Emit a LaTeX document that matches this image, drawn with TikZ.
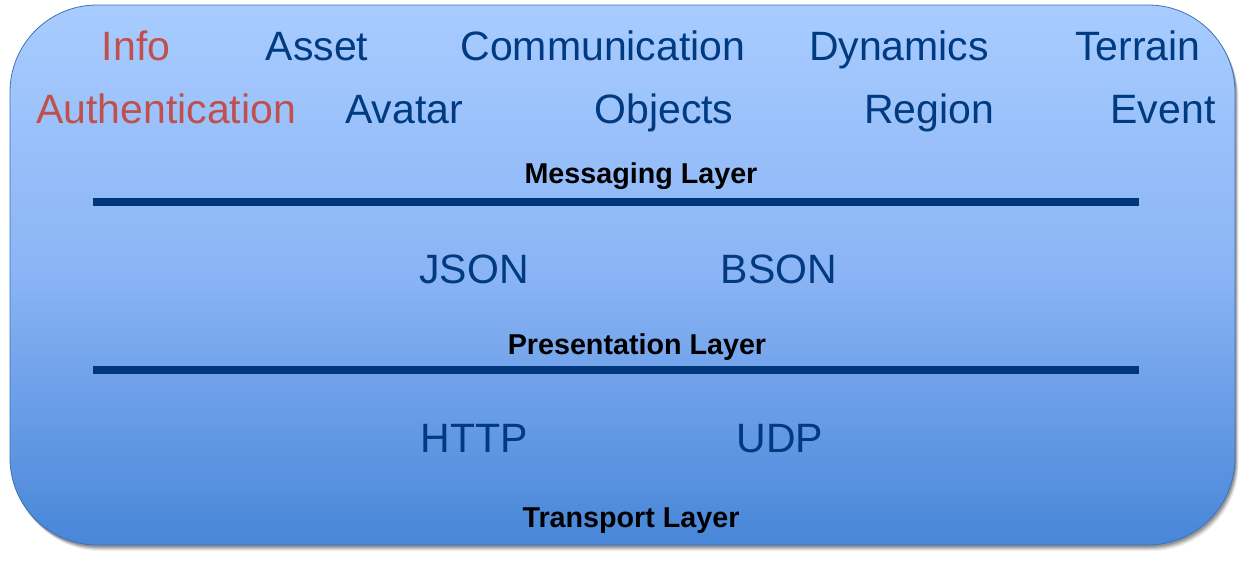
\documentclass[tikz,border=0pt]{standalone}
\usepackage{fontspec}
\setmainfont{Liberation Sans}
\begin{document}
\begin{tikzpicture}[x=1pt,y=-1pt,
  big/.style={anchor=base,inner sep=0pt,font=\fontsize{41}{49}\selectfont,text=darkblue},
  bigred/.style={big,text=redtxt},
  layer/.style={anchor=base,inner sep=0pt,font=\fontsize{28.7}{34}\selectfont\bfseries,text=black},
  sep/.style={draw=linecol,line width=8pt}]
\definecolor{darkblue}{HTML}{003A80}
\definecolor{redtxt}{HTML}{C0504D}
\definecolor{linecol}{HTML}{00367A}
\definecolor{topc}{HTML}{A8CCFF}
\definecolor{midc}{HTML}{8AB4F5}
\definecolor{botc}{HTML}{4886D8}
\useasboundingbox (0,0) rectangle (1245,560);
% shadow
\foreach \o/\op in {6/0.06,5/0.08,4/0.1,3/0.12,2/0.15}{
  \fill[black,opacity=\op,rounded corners=87pt] (10+\o*0.6,5+\o) rectangle (1235+\o*0.6,545+\o);
}
% box
\shade[rounded corners=87pt,top color=topc,bottom color=botc,middle color=midc] (10,5) rectangle (1235,545);
\draw[rounded corners=87pt,draw=black!15!botc,line width=0.8pt] (10,5) rectangle (1235,545);
% row 1
\node[bigred] (info) at (136,60) {Info};
\node[big] (asset) at (317,60) {Asset};
\node[big] (comm) at (603,60) {Communication};
\node[big] (dyn) at (899,60) {Dynamics};
\node[big] (terr) at (1138,60) {Terrain};
% row 2
\node[bigred] (auth) at (166,123) {Authentication};
\node[big] (avat) at (404,123) {Avatar};
\node[big] (obj) at (664,123) {Objects};
\node[big] (reg) at (929,123) {Region};
\node[big] (evt) at (1163,123) {Event};
% layers
\node[layer] (msg) at (641,183) {Messaging Layer};
\coordinate (l1a) at (93,202);
\coordinate (l1b) at (1139,202);
\draw[sep] (l1a) -- (l1b);
\node[big] (json) at (474,283) {JSON};
\node[big] (bson) at (779,283) {BSON};
\node[layer] (pres) at (637,354) {Presentation Layer};
\coordinate (l2a) at (93,370);
\coordinate (l2b) at (1139,370);
\draw[sep] (l2a) -- (l2b);
\node[big] (http) at (474,452) {HTTP};
\node[big] (udp) at (780,452) {UDP};
\node[layer] (trans) at (631,527) {Transport Layer};
\end{tikzpicture}
\end{document}
